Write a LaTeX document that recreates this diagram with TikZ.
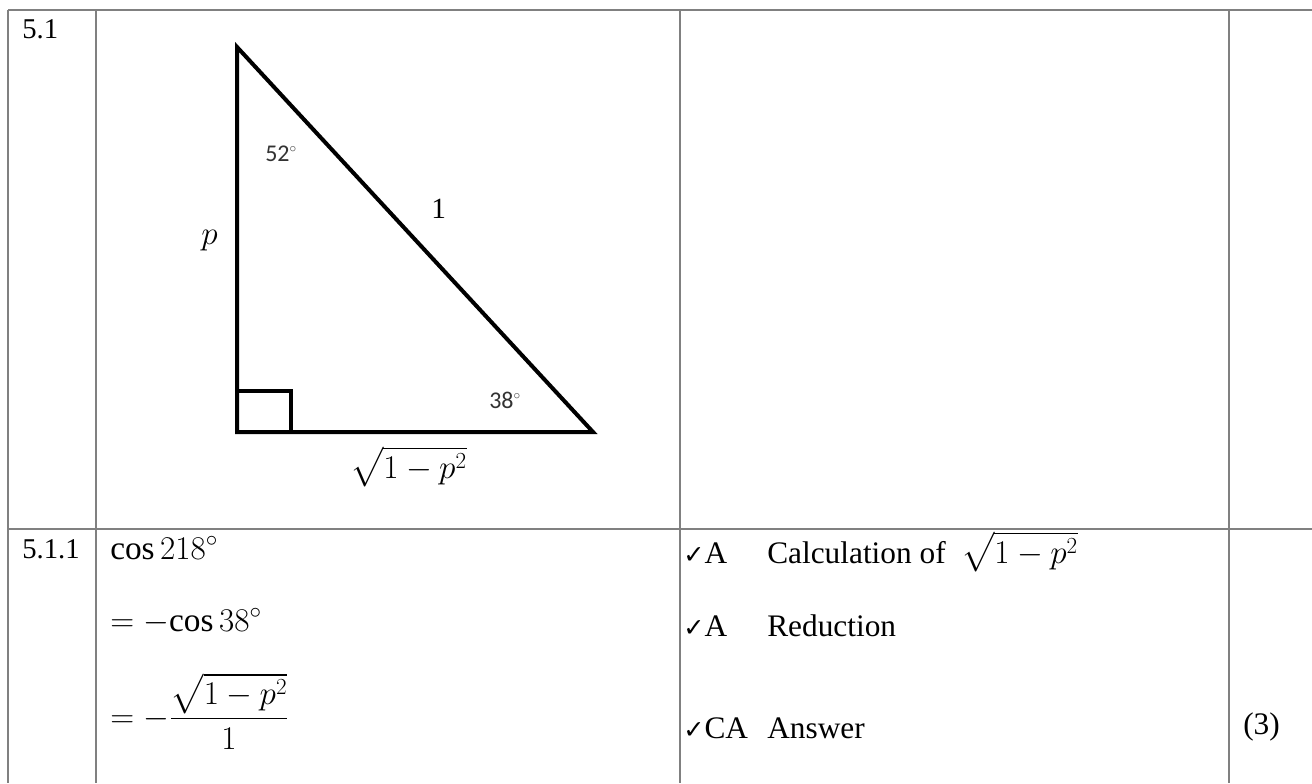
\documentclass[tikz,border=0pt]{standalone}
\usepackage{amsmath}
\usepackage{fontspec}
\setmainfont{Liberation Serif}
\newfontfamily\calfont{Carlito}
\newfontfamily\dejavu{DejaVu Sans}
\definecolor{rule}{HTML}{808080}
\begin{document}
\begin{tikzpicture}[x=0.75pt,y=-0.75pt,
  txt/.style={anchor=base west,inner sep=0pt,font=\fontsize{23.5}{27}\selectfont},
  mth/.style={anchor=base west,inner sep=0pt,font=\fontsize{25}{29}\selectfont},
  small/.style={anchor=base west,inner sep=0pt,font=\calfont\fontsize{18}{22}\selectfont,text=black!80},
  tri/.style={line width=3pt,line join=miter},
  tabline/.style={draw=rule,line width=1.6pt}]
\useasboundingbox (0,0) rectangle (1312,783);
\fill[white] (0,0) rectangle (1312,783);
% table grid
\coordinate (tl) at (8,10);
\coordinate (tr) at (1312,10);
\coordinate (bl) at (8,783);
\coordinate (c1t) at (96,10);   \coordinate (c1b) at (96,783);
\coordinate (c2t) at (680,10);  \coordinate (c2b) at (680,783);
\coordinate (c3t) at (1229,10); \coordinate (c3b) at (1229,783);
\coordinate (rl) at (8,529);    \coordinate (rr) at (1312,529);
\draw[tabline] (tl) -- (tr);
\draw[tabline] (tl) -- (bl);
\draw[tabline] (c1t) -- (c1b);
\draw[tabline] (c2t) -- (c2b);
\draw[tabline] (c3t) -- (c3b);
\draw[tabline] (rl) -- (rr);
% triangle
\coordinate (A) at (237,47);
\coordinate (B) at (237,432);
\coordinate (C) at (593,432);
\coordinate (S1) at (237,391);
\coordinate (S2) at (291,391);
\coordinate (S3) at (291,432);
\draw[tri] (A) -- (B) -- (C) -- cycle;
\draw[tri] (S1) -- (S2) -- (S3);
\node[small] (a52) at (265,161) {52\textsuperscript{\fontsize{10}{10}\selectfont$\circ$}};
\node[small] (a38) at (489,408) {38\textsuperscript{\fontsize{10}{10}\selectfont$\circ$}};
\node[txt,font=\fontsize{22}{25}\selectfont] (hyp) at (431,218) {1};
\node[mth,font=\fontsize{27}{30}\selectfont] (pl) at (201,244) {$p$};
\node[mth,font=\fontsize{24}{28}\selectfont] (base) at (350,478) {$\sqrt{1-p^2}$};
% left labels
\node[txt,font=\fontsize{21.5}{24}\selectfont] (q1) at (22,38) {5.1};
\node[txt,font=\fontsize{21.5}{24}\selectfont] (q2) at (22,558) {5.1.1};
% working
\node[mth] (w1) at (110,559) {$\cos 218^{\circ}$};
\node[mth] (w2) at (110,631) {$=-\!\cos 38^{\circ}$};
\node[mth] (w3) at (110,727) {$=-\dfrac{\sqrt{1-p^2}}{1}$};
% marks
\node[txt] (m1) at (683,563) {{\dejavu\fontsize{19}{22}\selectfont ✓}A};
\node[txt] (d1) at (767,563) {Calculation of \ $\sqrt{1-p^2}$};
\node[txt] (m2) at (683,636) {{\dejavu\fontsize{19}{22}\selectfont ✓}A};
\node[txt] (d2) at (767,636) {Reduction};
\node[txt] (m3) at (683,738) {{\dejavu\fontsize{19}{22}\selectfont ✓}CA};
\node[txt] (d3) at (767,738) {Answer};
\node[txt] (tot) at (1243,734) {(3)};
\end{tikzpicture}
\end{document}
